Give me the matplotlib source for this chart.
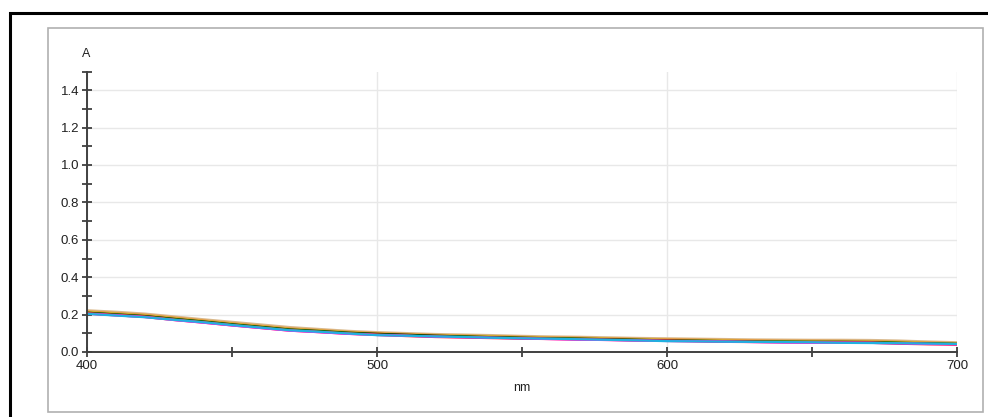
import numpy as np
import matplotlib.pyplot as plt
from matplotlib.patches import Rectangle
from matplotlib.ticker import MultipleLocator, FormatStrFormatter

plt.rcParams['font.family'] = ['Liberation Sans', 'DejaVu Sans']

wavelength = [400, 410, 420, 430, 440, 450, 460, 470, 480, 490, 500,
              510, 520, 530, 540, 550, 560, 570, 580, 590, 600,
              610, 620, 630, 640, 650, 660, 670, 680, 690, 700]

# absorbance spectra, one list per sample
spec_tan = [0.218, 0.210, 0.200, 0.185, 0.170, 0.156, 0.142, 0.128, 0.118, 0.108, 0.101,
            0.096, 0.091, 0.088, 0.085, 0.081, 0.078, 0.076, 0.073, 0.070, 0.068,
            0.066, 0.064, 0.062, 0.061, 0.060, 0.060, 0.059, 0.056, 0.051, 0.047]
spec_orange = [0.215, 0.206, 0.197, 0.182, 0.167, 0.152, 0.138, 0.124, 0.115, 0.106, 0.099,
               0.094, 0.089, 0.086, 0.083, 0.079, 0.076, 0.074, 0.071, 0.068, 0.066,
               0.064, 0.062, 0.060, 0.058, 0.058, 0.057, 0.056, 0.053, 0.049, 0.045]
spec_olive = [0.212, 0.203, 0.193, 0.178, 0.164, 0.149, 0.135, 0.121, 0.113, 0.104, 0.096,
              0.091, 0.087, 0.084, 0.081, 0.077, 0.074, 0.072, 0.069, 0.066, 0.063,
              0.061, 0.059, 0.057, 0.056, 0.055, 0.055, 0.054, 0.051, 0.047, 0.044]
spec_black = [0.210, 0.201, 0.192, 0.177, 0.163, 0.148, 0.134, 0.120, 0.112, 0.103, 0.097,
              0.092, 0.087, 0.083, 0.079, 0.076, 0.073, 0.071, 0.068, 0.065, 0.062,
              0.060, 0.058, 0.056, 0.055, 0.054, 0.054, 0.053, 0.049, 0.046, 0.043]
spec_green = [0.208, 0.199, 0.190, 0.175, 0.161, 0.146, 0.132, 0.118, 0.110, 0.101, 0.094,
              0.089, 0.084, 0.081, 0.077, 0.074, 0.072, 0.069, 0.066, 0.063, 0.061,
              0.059, 0.057, 0.055, 0.054, 0.053, 0.052, 0.052, 0.048, 0.045, 0.042]
spec_red = [0.206, 0.197, 0.188, 0.172, 0.158, 0.143, 0.129, 0.115, 0.107, 0.098, 0.092,
            0.086, 0.081, 0.078, 0.075, 0.072, 0.070, 0.067, 0.065, 0.062, 0.060,
            0.058, 0.055, 0.054, 0.052, 0.051, 0.051, 0.050, 0.045, 0.042, 0.040]
spec_magenta = [0.205, 0.196, 0.187, 0.171, 0.157, 0.142, 0.128, 0.114, 0.106, 0.097, 0.091,
                0.087, 0.082, 0.079, 0.076, 0.073, 0.069, 0.066, 0.064, 0.061, 0.059,
                0.057, 0.056, 0.053, 0.051, 0.050, 0.050, 0.049, 0.046, 0.043, 0.041]
spec_cyan = [0.204, 0.195, 0.186, 0.172, 0.159, 0.144, 0.130, 0.116, 0.108, 0.099, 0.090,
             0.087, 0.083, 0.080, 0.076, 0.073, 0.071, 0.068, 0.065, 0.062, 0.058,
             0.057, 0.055, 0.054, 0.053, 0.052, 0.049, 0.048, 0.047, 0.045, 0.043]

series = [
    (spec_tan, '#d9b98c', 3.0),
    (spec_orange, '#e89a3c', 2.2),
    (spec_olive, '#b4c428', 1.8),
    (spec_black, '#000000', 1.6),
    (spec_green, '#22cc22', 1.6),
    (spec_red, '#ff1030', 1.8),
    (spec_magenta, '#ff20ff', 1.6),
    (spec_cyan, '#20b0e0', 1.6),
]

fig = plt.figure(figsize=(9.88, 4.17), dpi=100)

# outer black frame and inner grey panel
fig.patches.append(Rectangle((10 / 988, -0.1), 1.1, (417 - 13) / 417 + 0.1, transform=fig.transFigure,
                             fill=False, edgecolor='black', linewidth=2.2))
fig.patches.append(Rectangle((48 / 988, 1 - 412 / 417), (983 - 48) / 988, (412 - 28) / 417,
                             transform=fig.transFigure, fill=False, edgecolor='#b0b0b0', linewidth=1.2))

ax = fig.add_axes([87 / 988, 1 - 352 / 417, (957 - 87) / 988, (352 - 71.5) / 417])

for vals, col, lw in series:
    ax.plot(wavelength, vals, color=col, linewidth=lw)

ax.set_xlim(400, 700)
ax.set_ylim(0, 1.5)
ax.xaxis.set_major_locator(MultipleLocator(100))
ax.xaxis.set_minor_locator(MultipleLocator(50))
ax.yaxis.set_major_locator(MultipleLocator(0.2))
ax.yaxis.set_minor_locator(MultipleLocator(0.1))
ax.yaxis.set_major_formatter(FormatStrFormatter('%.1f'))

ax.grid(True, which='major', color='#e8e8e8', linewidth=1.0)
ax.set_axisbelow(True)
for side in ['top', 'right']:
    ax.spines[side].set_visible(False)
for side in ['left', 'bottom']:
    ax.spines[side].set_color('#404040')
    ax.spines[side].set_linewidth(1.4)

ax.tick_params(which='both', direction='inout', color='#303030', width=1.2, labelsize=9.5, labelcolor='#202020')
ax.tick_params(which='major', length=7, pad=2)
ax.tick_params(which='minor', length=7)

fig.text(86 / 988, 1 - 54 / 417, 'A', ha='center', va='center', fontsize=9, color='#202020')
fig.text(522 / 988, 1 - 388 / 417, 'nm', ha='center', va='center', fontsize=9, color='#202020')

fig.savefig('out.png', dpi=100)
